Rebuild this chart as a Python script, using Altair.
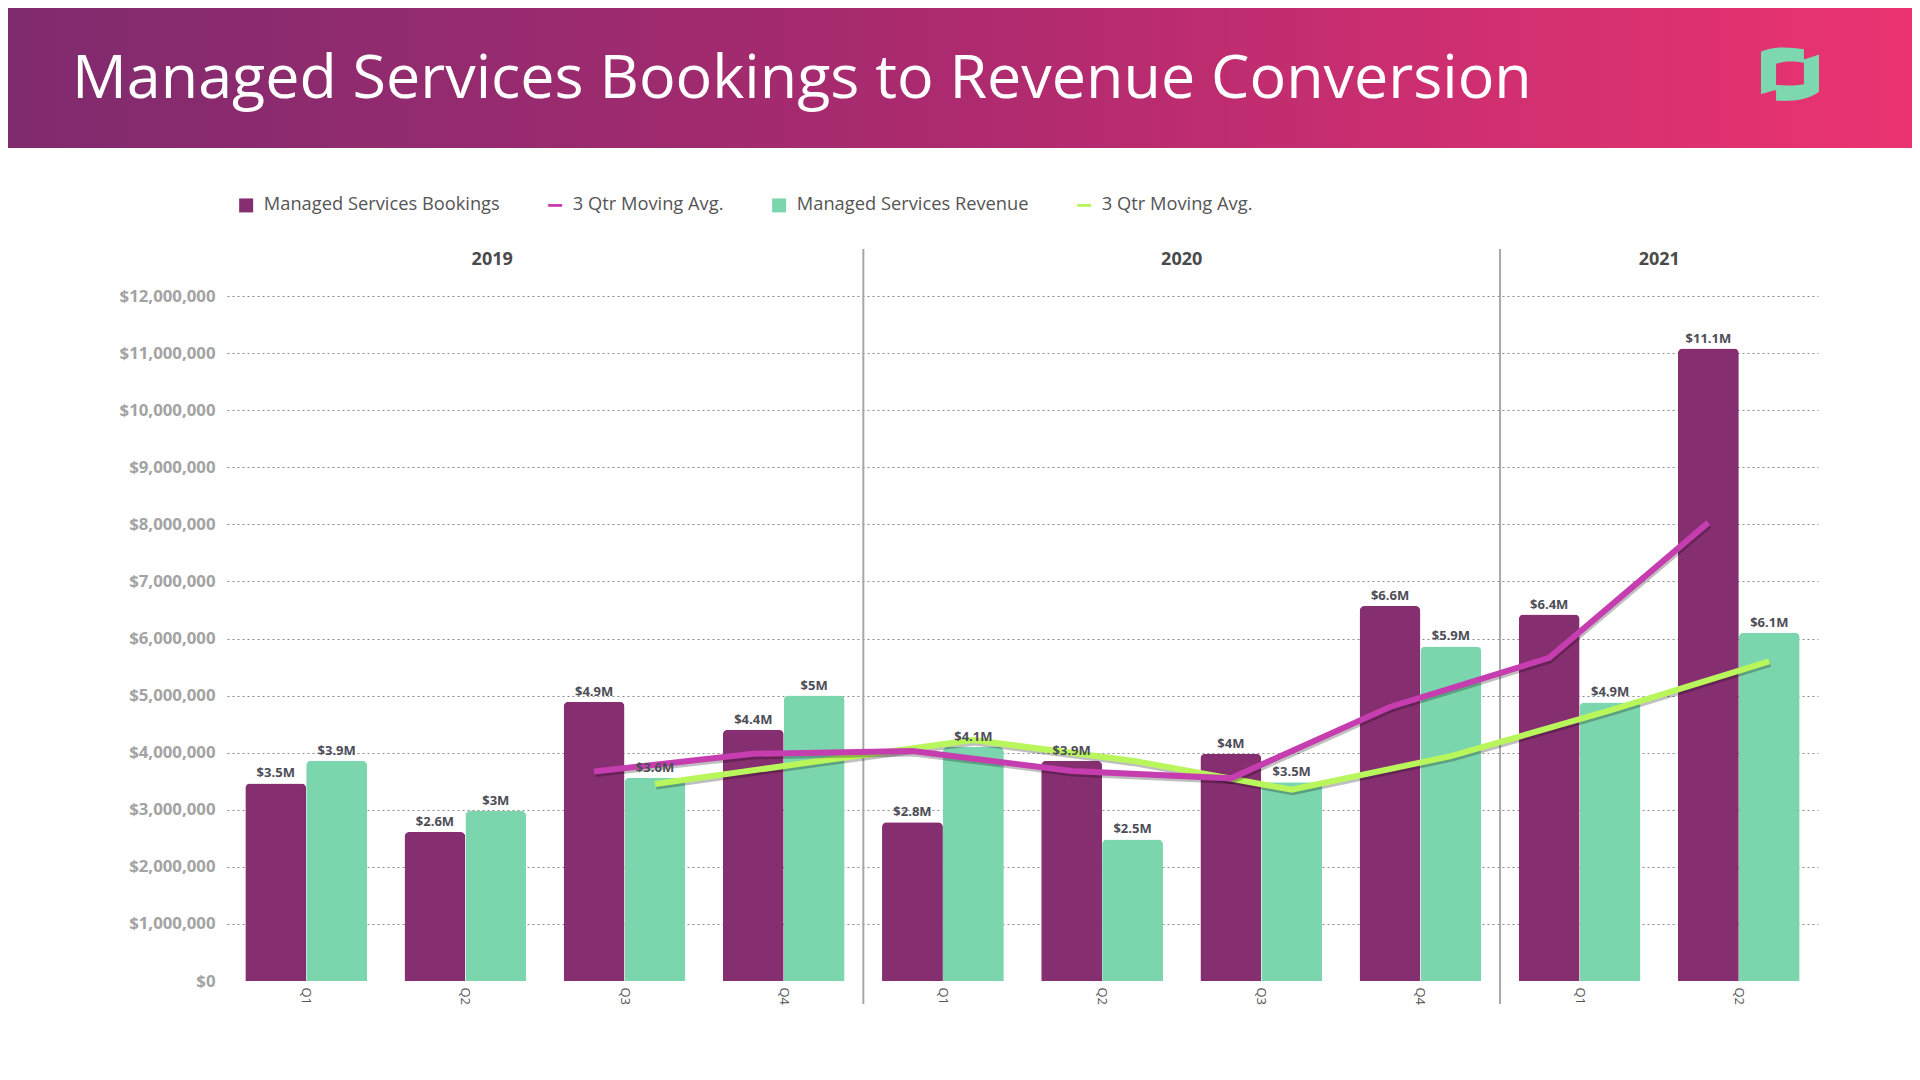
import altair as alt
import pandas as pd

# ---------------- data ----------------
years = ["2019", "2019", "2019", "2019", "2020", "2020", "2020", "2020", "2021", "2021"]
quarters = ["Q1", "Q2", "Q3", "Q4", "Q1", "Q2", "Q3", "Q4", "Q1", "Q2"]
bookings_m = [3.46, 2.61, 4.89, 4.40, 2.78, 3.86, 3.98, 6.57, 6.42, 11.08]
revenue_m = [3.86, 2.98, 3.56, 5.00, 4.10, 2.48, 3.48, 5.86, 4.88, 6.10]
bookings_avg_m = [None, None, 3.67, 3.98, 4.03, 3.68, 3.55, 4.80, 5.66, 8.03]
revenue_avg_m = [None, None, 3.45, 3.84, 4.22, 3.86, 3.35, 3.94, 4.74, 5.60]

series_keys = ["bk", "bkavg", "rv", "rvavg"]
series_colors = ["#862f70", "#c63daf", "#7bd6ae", "#b9f65c"]
year_labels = ["2019", "2020", "2021"]
year_anchor = ["2019 Q2", "2020 Q3", "2021 Q2"]
separator_anchor = ["2020 Q1", "2021 Q1"]
title_text = "Managed Services Bookings to Revenue Conversion"

keys = [f"{y} {q}" for y, q in zip(years, quarters)]

bk_bars = pd.DataFrame([{"key": k, "series": "bk", "value": v * 1e6} for k, v in zip(keys, bookings_m)])
rv_bars = pd.DataFrame([{"key": k, "series": "rv", "value": v * 1e6} for k, v in zip(keys, revenue_m)])
bars = pd.concat([bk_bars, rv_bars], ignore_index=True)
bk_avg = pd.DataFrame([{"key": k, "value": v * 1e6} for k, v in zip(keys, bookings_avg_m) if v is not None])
rv_avg = pd.DataFrame([{"key": k, "value": v * 1e6} for k, v in zip(keys, revenue_avg_m) if v is not None])
legend_df = pd.DataFrame({"series": series_keys})
years_df = pd.DataFrame({"year": year_labels, "key": year_anchor})
sep_df = pd.DataFrame({"key": separator_anchor})
one = pd.DataFrame({"t": [title_text]})

FONT = "Open Sans"
W, H = 1591, 685
PAD_IN, PAD_OUT = 0.235, 0.115
step = W / (len(keys) - PAD_IN + 2 * PAD_OUT)
half_gap = PAD_IN * step / 2

xscale = alt.Scale(domain=keys, paddingInner=PAD_IN, paddingOuter=PAD_OUT)
yscale = alt.Scale(domain=[0, 12e6], nice=False)
off_scale = alt.Scale(domain=["bk", "rv"])
color_scale = alt.Scale(domain=series_keys, range=series_colors)
thin = "M-1,-0.2H1V0.2H-1Z"
shape_scale = alt.Scale(domain=series_keys, range=["square", thin, "square", thin])

x_axis = alt.Axis(
    labelExpr="split(datum.label, ' ')[1]",
    labelAngle=90,
    labelFontSize=13,
    labelFont=FONT,
    labelColor="#555555",
    labelPadding=6,
    ticks=False,
    domain=False,
    grid=False,
)
y_axis = alt.Axis(
    values=[i * 1e6 for i in range(13)],
    format="$,.0f",
    labelFontSize=16.8,
    labelFont=FONT,
    labelFontWeight="bold",
    labelColor="#a3a3a3",
    labelPadding=12,
    ticks=False,
    domain=False,
    grid=True,
    gridColor="#8a8a8a",
    gridDash=[2, 3],
    gridWidth=1,
    gridOpacity={"condition": {"test": "datum.value === 0", "value": 0}, "value": 1},
)

# header band
header = alt.Chart(one).mark_rect(
    fill=alt.Gradient(
        gradient="linear",
        stops=[
            alt.GradientStop(offset=0, color="#7f2b6e"),
            alt.GradientStop(offset=0.5, color="#ad2a6f"),
            alt.GradientStop(offset=1, color="#ec3371"),
        ],
        x1=0, x2=1, y1=0, y2=0,
    )
).encode(x=alt.value(-219), x2=alt.value(W + 94), y=alt.value(-288), y2=alt.value(-148))

title = alt.Chart(one).mark_text(
    align="left", baseline="alphabetic", font=FONT, fontSize=61, color="white", fontWeight=400
).encode(x=alt.value(-155), y=alt.value(-198), text="t:N")

logo_path = (
    "M-1,-0.77 C-0.6,-0.95 -0.1,-0.95 0.48,-0.85 L0.48,-0.39 C0.1,-0.45 -0.2,-0.45 -0.48,-0.35 "
    "L-0.48,0.55 C-0.7,0.6 -0.85,0.65 -1,0.69 Z "
    "M1,-0.67 L1,0.61 C0.6,0.9 0.1,0.95 -0.48,0.92 L-0.48,0.38 C-0.1,0.4 0.2,0.4 0.48,0.35 "
    "L0.48,-0.5 C0.65,-0.55 0.85,-0.62 1,-0.67 Z"
)
logo = alt.Chart(one).mark_point(
    shape=logo_path, filled=True, color="#7dd8b0", opacity=1, size=3364, strokeWidth=0
).encode(x=alt.value(1563), y=alt.value(-222))

leg = alt.Legend(
    title=None,
    orient="none",
    legendX=10,
    legendY=-100,
    direction="horizontal",
    labelExpr="datum.label == 'bk' ? 'Managed Services Bookings' : datum.label == 'rv' ? 'Managed Services Revenue' : '3 Qtr Moving Avg.'",
    symbolSize=196,
    labelFontSize=18.3,
    labelFont=FONT,
    labelColor="#555555",
    labelLimit=400,
    columnPadding=46,
    labelOffset=8.5,
    symbolStrokeWidth=0,
    symbolOpacity=1,
)
legend_layer = alt.Chart(legend_df).transform_filter("false").mark_point(filled=True, opacity=1).encode(
    color=alt.Color("series:N", scale=color_scale, legend=leg),
    shape=alt.Shape("series:N", scale=shape_scale, legend=leg),
)

bk_layer = alt.Chart(bk_bars).mark_bar(
    cornerRadiusTopLeft=5, cornerRadiusTopRight=5, color=series_colors[0]
).encode(
    x=alt.X("key:N", scale=xscale, axis=x_axis, title=None, sort=keys),
    xOffset=alt.XOffset("series:N", scale=off_scale),
    y=alt.Y("value:Q", scale=yscale, axis=y_axis, title=None),
)
rv_layer = alt.Chart(rv_bars).mark_bar(
    cornerRadiusTopLeft=5, cornerRadiusTopRight=5, color=series_colors[2]
).encode(
    x=alt.X("key:N", title=None),
    xOffset=alt.XOffset("series:N", scale=off_scale),
    y=alt.Y("value:Q", title=None),
)

bar_labels = alt.Chart(bars).transform_calculate(
    lab="'$' + format(datum.value / 1000000, '.1~f') + 'M'"
).mark_text(baseline="alphabetic", dy=-6, font=FONT, fontSize=13, fontWeight="bold", color="#4d4d57").encode(
    x=alt.X("key:N", title=None),
    xOffset=alt.XOffset("series:N", scale=off_scale),
    y=alt.Y("value:Q", title=None),
    text="lab:N",
)


def avg_lines(df, color, band):
    shadow = alt.Chart(df).mark_line(
        color="#000000", opacity=0.25, strokeWidth=6, yOffset=2.5, xOffset=1
    ).encode(x=alt.X("key:N", bandPosition=band, title=None), y=alt.Y("value:Q", title=None))
    line = alt.Chart(df).mark_line(color=color, strokeWidth=6).encode(
        x=alt.X("key:N", bandPosition=band, title=None), y=alt.Y("value:Q", title=None)
    )
    return [shadow, line]


separators = alt.Chart(sep_df).mark_rule(color="#a8a8a8", strokeWidth=2, xOffset=-half_gap).encode(
    x=alt.X("key:N", bandPosition=0, title=None), y=alt.value(-47), y2=alt.value(708)
)

year_text_main = alt.Chart(years_df).transform_filter("datum.year != '2019'").mark_text(
    font=FONT, fontSize=18, fontWeight="bold", color="#4a4a4a", baseline="alphabetic", dx=-half_gap
).encode(x=alt.X("key:N", bandPosition=0, title=None), y=alt.value(-31), text="year:N")

year_text_first = alt.Chart(years_df).transform_filter("datum.year == '2019'").mark_text(
    font=FONT, fontSize=18, fontWeight="bold", color="#4a4a4a", baseline="alphabetic"
).encode(x=alt.X("key:N", bandPosition=0.72, title=None), y=alt.value(-31), text="year:N")

layers = [header, title, logo, bk_layer, rv_layer, separators]
layers += avg_lines(rv_avg, "#b9f65c", 0.75)
layers += avg_lines(bk_avg, "#c63daf", 0.25)
layers += [bar_labels, year_text_main, year_text_first, legend_layer]

chart = (
    alt.layer(*layers)
    .properties(
        width=W,
        height=H,
        autosize=alt.AutoSizeParams(type="none"),
        padding={"left": 219, "top": 288, "right": 94, "bottom": 91},
    )
    .configure(background="white")
    .configure_view(stroke=None)
)

chart.save("out.html", embed_options={"renderer": "svg", "actions": False})
